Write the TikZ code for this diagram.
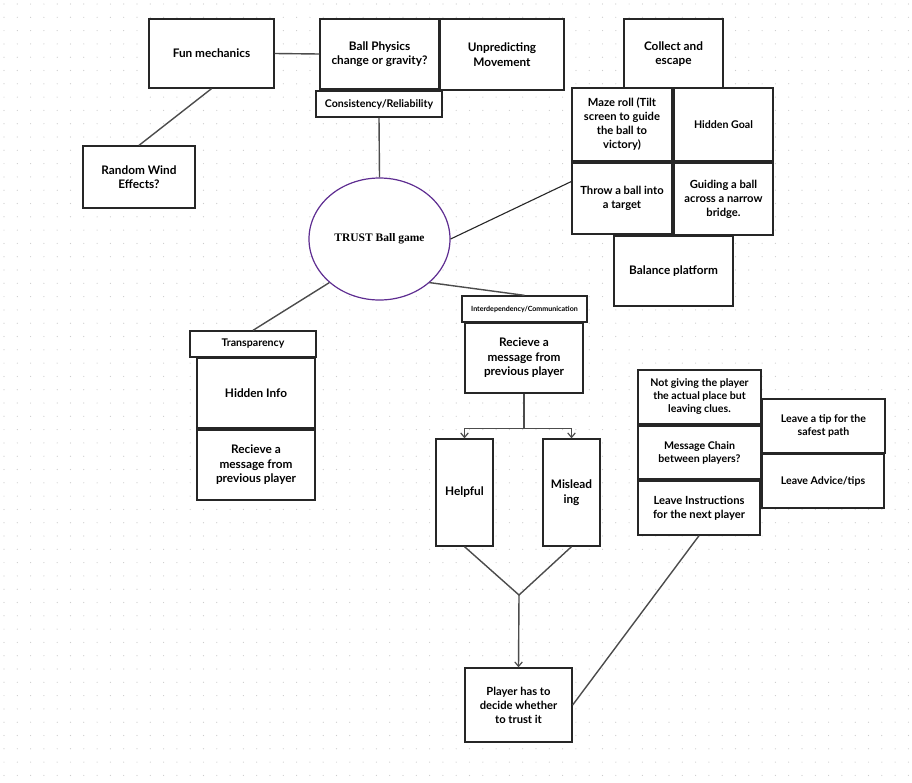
\documentclass[tikz,border=0pt]{standalone}
\usepackage{fontspec}
\setmainfont{Lato}
\newfontfamily\serifx{Liberation Serif}
\usetikzlibrary{arrows.meta,shapes.geometric}
\definecolor{ballpurple}{HTML}{5E2D91}
\begin{document}
\begin{tikzpicture}[x=1pt,y=-1pt,
  box/.style={draw=black!85, line width=1.3pt, fill=white, inner sep=1pt, align=center,
              font=\bfseries\fontsize{11.8}{14.5}\selectfont},
  small/.style={font=\bfseries\fontsize{10.6}{13}\selectfont},
  mid/.style={font=\bfseries\fontsize{11.2}{14}\selectfont},
  tiny/.style={font=\bfseries\fontsize{7.1}{8}\selectfont},
  link/.style={draw=black!70, line width=1.4pt},
  thinlink/.style={draw=black!85, line width=1.1pt},
  arr/.style={-{Straight Barb[length=4.5pt,width=7.5pt,line width=1.2pt]}},
]
\path[use as bounding box, fill=white] (0,0) rectangle (912,782);
\foreach \i in {0,...,68}{\foreach \j in {0,...,58}{\fill[black!20] (\i*13.3+4,\j*13.3+4) circle (0.6);}}

% top left
\node[box, minimum width=125, minimum height=69] (fun) at (211.5,53.5) {Fun mechanics};
\node[box, minimum width=119, minimum height=70] (phys) at (379.5,54) {Ball Physics\\change or gravity?};
\node[box, minimum width=124, minimum height=71] (unpred) at (502,54.5) {Unpredicting\\Movement};
\node[box, small, minimum width=126, minimum height=26] (consist) at (379,104) {Consistency/Reliability};
\node[box, minimum width=112, minimum height=62] (wind) at (139,177) {Random Wind\\Effects?};

% centre
\node[ellipse, draw=ballpurple, line width=1.2pt, fill=white, minimum width=141, minimum height=122,
      font=\serifx\bfseries\fontsize{11.5}{14}\selectfont] (trust) at (379.5,239) {TRUST Ball game};

% top right cluster
\node[box, minimum width=99, minimum height=70] (collect) at (673.5,54) {Collect and\\escape};
\node[box, mid, minimum width=100, minimum height=73] (maze) at (622,124.5) {Maze roll (Tilt\\screen to guide\\the ball to\\victory)};
\node[box, small, minimum width=99, minimum height=73] (hgoal) at (723.5,124.5) {Hidden Goal};
\node[box, mid, minimum width=100, minimum height=71] (throw) at (622,198.5) {Throw a ball into\\a target};
\node[box, mid, minimum width=99, minimum height=72] (guide) at (723.5,199) {Guiding a ball\\across a narrow\\bridge.};
\node[box, minimum width=119, minimum height=70] (balance) at (673.5,271) {Balance platform};

% lower middle
\node[box, tiny, minimum width=125, minimum height=26] (interdep) at (524.5,309) {Interdependency/Communication};
\node[box, minimum width=118, minimum height=70] (recvR) at (524,358) {Recieve a\\message from\\previous player};
\node[box, minimum width=57, minimum height=107] (helpful) at (464.5,492.5) {Helpful};
\node[box, minimum width=57, minimum height=107] (mislead) at (571.5,492.5) {Mislead\\ing};
\node[box, mid, minimum width=107, minimum height=74] (player) at (518.5,705) {Player has to\\decide whether\\to trust it};

% lower left
\node[box, small, minimum width=126, minimum height=26] (transp) at (253,344) {Transparency};
\node[box, minimum width=118, minimum height=70] (hinfo) at (256,393) {Hidden Info};
\node[box, minimum width=118, minimum height=70] (recvL) at (256,465) {Recieve a\\message from\\previous player};

% lower right cluster
\node[box, small, minimum width=123, minimum height=54] (notgiving) at (699.5,397) {Not giving the player\\the actual place but\\leaving clues.};
\node[box, small, minimum width=123, minimum height=53] (msgchain) at (699.5,452.5) {Message Chain\\between players?};
\node[box, mid, minimum width=122, minimum height=54] (leaveinst) at (699,508) {Leave Instructions\\for the next player};
\node[box, small, minimum width=123, minimum height=54] (tip) at (823.5,426) {Leave a tip for the\\safest path};
\node[box, small, minimum width=122, minimum height=54] (advice) at (823,481) {Leave Advice/tips};

% connectors
\draw[link] (fun.east) -- (phys.west);
\draw[link] (fun.south) -- (wind.north);
\draw[link] (consist.south) -- (trust.north);
\draw[thinlink] (trust.east) -- ([yshift=17pt]throw.west);
\draw[link] (trust.221) -- (transp.north);
\draw[link] (trust.319) -- (interdep.north);
\draw[link] (recvR.south) -- ++(0,35) coordinate (split);
\draw[link,arr] (split) -| (helpful.north);
\draw[link,arr] (split) -| (mislead.north);
\coordinate (vjoin) at (519,595);
\draw[link] (helpful.south) -- (vjoin) -- (mislead.south);
\draw[link,arr] (vjoin) -- (player.north);
\draw[link] (player.east) -- (leaveinst.south);
\end{tikzpicture}
\end{document}
